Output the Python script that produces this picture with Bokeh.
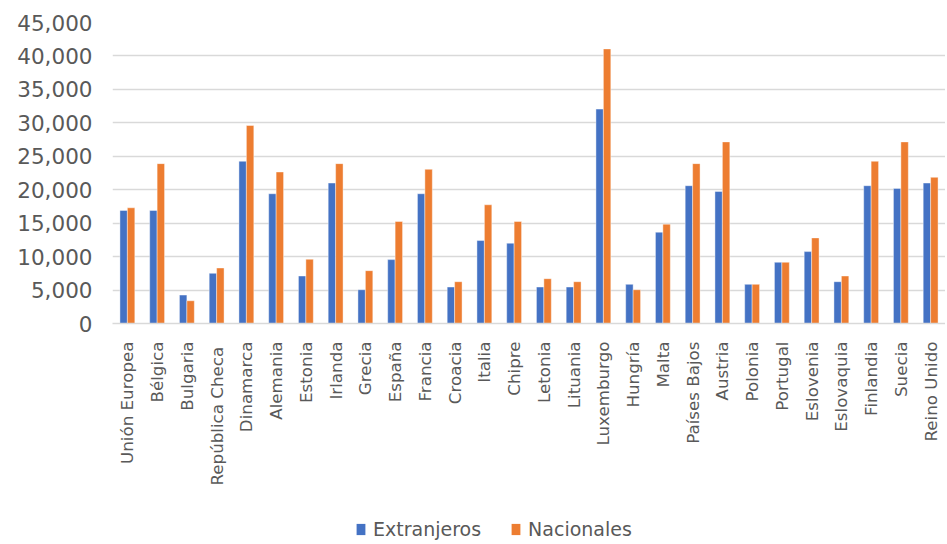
from bokeh.plotting import figure
from bokeh.models import ColumnDataSource, Legend, LegendItem, NumeralTickFormatter, FixedTicker, Range1d
from bokeh.layouts import column
from bokeh.transform import dodge
from bokeh.embed import file_html
from bokeh.resources import INLINE
import math

countries = ["Unión Europea", "Bélgica", "Bulgaria", "República  Checa", "Dinamarca", "Alemania",
             "Estonia", "Irlanda", "Grecia", "España", "Francia", "Croacia", "Italia", "Chipre",
             "Letonia", "Lituania", "Luxemburgo", "Hungría", "Malta", "Países Bajos", "Austria",
             "Polonia", "Portugal", "Eslovenia", "Eslovaquia", "Finlandia", "Suecia", "Reino Unido"]
extranjeros = [16900, 16900, 4250, 7500, 24250, 19400, 7100, 21000, 5050, 9550, 19400, 5450, 12400,
               12000, 5450, 5450, 32050, 5850, 13650, 20600, 19750, 5850, 9150, 10750, 6250, 20600,
               20200, 21000]
nacionales = [17300, 23900, 3400, 8300, 29600, 22650, 9600, 23900, 7900, 15250, 23050, 6250, 17750,
              15250, 6700, 6250, 41050, 5050, 14850, 23900, 27150, 5850, 9150, 12800, 7100, 24250,
              27150, 21850]
y_ticks = [0, 5000, 10000, 15000, 20000, 25000, 30000, 35000, 40000, 45000]
series_names = ["Extranjeros", "Nacionales"]

FONT = "DejaVu Sans"
GREY = "#595959"
BLUE = "#4472C4"
ORANGE = "#ED7D31"

src = ColumnDataSource(dict(country=countries, ext=extranjeros, nac=nacionales))

p = figure(x_range=countries, y_range=(0, 45000), width=945, height=488,
           output_backend="svg", toolbar_location=None,
           min_border_left=112, min_border_right=0, min_border_top=22, min_border_bottom=160)
p.outline_line_color = None

r1 = p.vbar(x=dodge("country", -0.125, range=p.x_range), top="ext", width=0.25, source=src,
            fill_color=BLUE, line_color="white", line_width=0.6, line_alpha=0.7)
r2 = p.vbar(x=dodge("country", 0.125, range=p.x_range), top="nac", width=0.25, source=src,
            fill_color=ORANGE, line_color="white", line_width=0.6, line_alpha=0.7)

p.xgrid.grid_line_color = None
p.ygrid.grid_line_color = "#d9d9d9"
p.ygrid.grid_line_width = 1.6
p.yaxis.ticker = FixedTicker(ticks=y_ticks)
p.yaxis.formatter = NumeralTickFormatter(format="0,0")
p.yaxis.axis_line_color = None
p.yaxis.major_tick_line_color = None
p.yaxis.minor_tick_line_color = None
p.yaxis.major_label_standoff = 14
p.yaxis.major_label_text_font = FONT
p.yaxis.major_label_text_font_size = "21.5px"
p.yaxis.major_label_text_color = GREY

p.xaxis.axis_line_color = "#d9d9d9"
p.xaxis.axis_line_width = 1.6
p.xaxis.major_tick_line_color = None
p.xaxis.minor_tick_line_color = None
p.xaxis.major_label_orientation = math.pi / 2
p.xaxis.major_label_standoff = 12
p.xaxis.major_label_text_font = FONT
p.xaxis.major_label_text_font_size = "16.7px"
p.xaxis.major_label_text_color = GREY
p.x_range.range_padding = 0.0

# legend strip below the chart (zero-height proxies drawn from the same data)
lg = figure(width=945, height=54, x_range=p.x_range, y_range=Range1d(0, 1), output_backend="svg",
            toolbar_location=None, min_border=0)
lg.axis.visible = False
lg.grid.visible = False
lg.outline_line_color = None
l1 = lg.vbar(x=dodge("country", -0.125, range=p.x_range), top=0, width=0.25, source=src,
             fill_color=BLUE, line_color=None)
l2 = lg.vbar(x=dodge("country", 0.125, range=p.x_range), top=0, width=0.25, source=src,
             fill_color=ORANGE, line_color=None)
legend = Legend(items=[LegendItem(label=series_names[0], renderers=[l1]),
                       LegendItem(label=series_names[1], renderers=[l2])],
                orientation="horizontal", location=(243, 2), border_line_color=None,
                background_fill_alpha=0,
                label_text_font=FONT, label_text_font_size="19px", label_text_color=GREY,
                label_height=20, glyph_width=11, glyph_height=14, spacing=29, label_standoff=7,
                padding=0, margin=0)
lg.add_layout(legend, "center")

layout = column(p, lg, spacing=0)
open("out.html", "w").write(file_html(layout, INLINE))
